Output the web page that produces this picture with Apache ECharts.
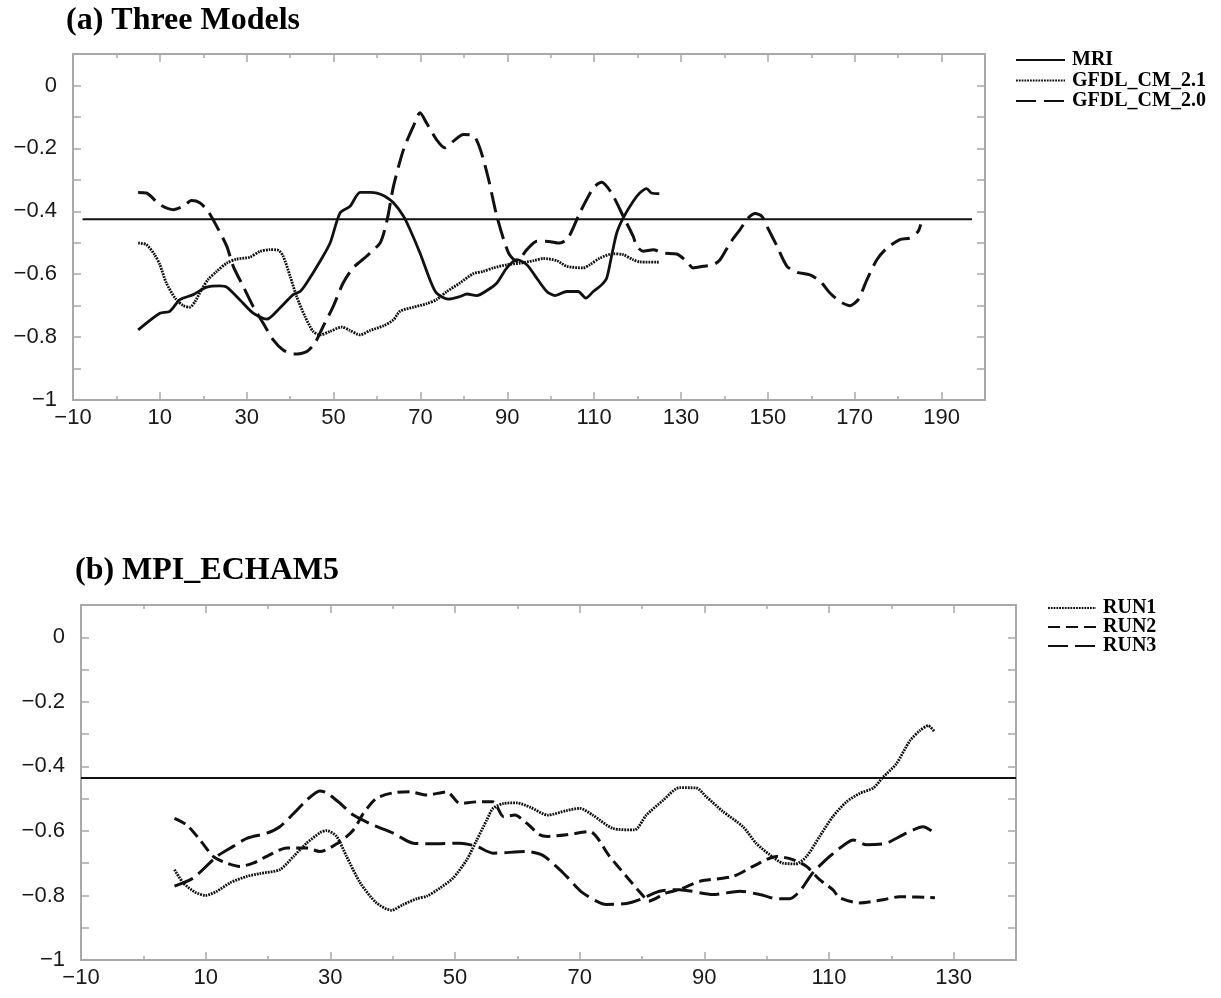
<!DOCTYPE html>
<html>
<head>
<meta charset="utf-8">
<title>Three Models / MPI_ECHAM5</title>
<script src="https://cdn.jsdelivr.net/npm/echarts@6/dist/echarts.min.js"></script>
<style>
    html, body { margin: 0; padding: 0; background: #fff; }
    #chart { width: 1221px; height: 998px; }
</style>
</head>
<body>
<div id="chart"></div>
<script>
(() => {
    'use strict'

    // panel (a): x, value pairs
    const mri = [[5,-0.777],[10,-0.724],[12.3,-0.718],[14.6,-0.681],[17.7,-0.665],[20.8,-0.641],[23.8,-0.637],[25.4,-0.641],[28.4,-0.681],[31.5,-0.724],[34.6,-0.743],[37.6,-0.708],[40.7,-0.665],[42.3,-0.655],[43.8,-0.628],[46.9,-0.559],[49.2,-0.501],[51.5,-0.405],[53.8,-0.384],[56.1,-0.34],[58.4,-0.34],[60,-0.342],[61.8,-0.352],[63.8,-0.373],[66.1,-0.416],[67.6,-0.458],[69.9,-0.533],[72.2,-0.618],[73.7,-0.66],[76.4,-0.679],[79.1,-0.671],[80.7,-0.663],[83,-0.668],[85.3,-0.652],[87.6,-0.628],[89.9,-0.58],[92.2,-0.554],[94.5,-0.57],[96.5,-0.607],[99.1,-0.655],[101,-0.668],[103.7,-0.655],[106.3,-0.655],[108.1,-0.676],[109.8,-0.655],[111.7,-0.634],[112.9,-0.612],[114,-0.543],[115.2,-0.469],[116.7,-0.421],[119,-0.368],[120.5,-0.342],[122.1,-0.328],[123.2,-0.342],[125,-0.344]]
    const gfdl21 = [[5,-0.501],[6.9,-0.506],[8.8,-0.538],[10,-0.57],[11.5,-0.628],[13.5,-0.676],[15.4,-0.7],[16.9,-0.705],[18.1,-0.687],[19.6,-0.649],[21.1,-0.617],[23.1,-0.591],[25.4,-0.565],[27.7,-0.552],[30.7,-0.546],[33,-0.528],[35.3,-0.522],[37.3,-0.524],[38.4,-0.543],[40,-0.607],[41.5,-0.671],[43.4,-0.734],[45.3,-0.782],[46.9,-0.793],[49.2,-0.782],[51.9,-0.768],[53.8,-0.779],[56.1,-0.793],[58.4,-0.779],[61.5,-0.764],[63.8,-0.745],[65.3,-0.718],[68.4,-0.705],[71.4,-0.694],[73.7,-0.681],[76.1,-0.655],[79.1,-0.628],[82.2,-0.598],[84.5,-0.591],[86.8,-0.58],[89.9,-0.57],[93,-0.565],[96.1,-0.557],[98.3,-0.55],[101.4,-0.557],[103.7,-0.575],[107.5,-0.58],[109,-0.57],[111.3,-0.549],[114.4,-0.535],[116.7,-0.538],[119,-0.554],[120.5,-0.561],[125,-0.562]]
    const gfdl20 = [[5,-0.34],[6.9,-0.342],[10,-0.379],[13.1,-0.395],[15.4,-0.384],[17.3,-0.366],[19.2,-0.373],[21.1,-0.4],[23.1,-0.448],[25.4,-0.511],[26.9,-0.575],[29.2,-0.639],[31.5,-0.703],[33.8,-0.756],[36.1,-0.809],[38.4,-0.841],[40.7,-0.854],[43.8,-0.846],[45.7,-0.819],[47.6,-0.766],[49.9,-0.703],[52.2,-0.628],[54.5,-0.58],[57.6,-0.543],[60.7,-0.501],[61.8,-0.458],[62.6,-0.41],[63.8,-0.32],[66.1,-0.204],[68.4,-0.129],[69.9,-0.087],[71.4,-0.119],[73.7,-0.172],[75.6,-0.198],[77.6,-0.177],[79.9,-0.156],[82.2,-0.159],[83.8,-0.204],[85.7,-0.299],[87.6,-0.416],[90.3,-0.533],[92.2,-0.559],[94.5,-0.522],[96.8,-0.495],[99.5,-0.496],[102.1,-0.501],[104,-0.485],[106.7,-0.405],[109.8,-0.326],[111.7,-0.308],[114,-0.342],[116.7,-0.416],[119,-0.48],[119.8,-0.511],[121.3,-0.527],[123.6,-0.522],[125.9,-0.533],[129,-0.536],[131.3,-0.559],[132.8,-0.58],[135.1,-0.575],[137.4,-0.57],[139,-0.554],[141.3,-0.501],[143.6,-0.458],[145.5,-0.421],[147.1,-0.407],[148.6,-0.416],[149.8,-0.448],[152.1,-0.511],[154.4,-0.575],[156.7,-0.594],[159.7,-0.602],[162.1,-0.623],[164.3,-0.66],[166.6,-0.687],[168.9,-0.7],[170.8,-0.681],[172.8,-0.618],[175.1,-0.554],[177.4,-0.517],[180.4,-0.49],[182.7,-0.485],[184.6,-0.464],[185.2,-0.442]]
    const refA = [[-7.8,-0.425],[197,-0.425]]

    // panel (b)
    const run1 = [[5,-0.72],[6.4,-0.761],[8.3,-0.79],[10,-0.8],[11.8,-0.787],[13.9,-0.761],[16.6,-0.741],[18.7,-0.732],[21.9,-0.72],[24.1,-0.679],[26.2,-0.638],[28.4,-0.605],[29.4,-0.599],[31,-0.617],[32.6,-0.679],[34.8,-0.761],[37.4,-0.823],[39.8,-0.846],[41.7,-0.828],[43.9,-0.81],[45.5,-0.802],[47.6,-0.777],[49.7,-0.746],[51.9,-0.689],[53.5,-0.628],[55.1,-0.566],[56.1,-0.53],[57.8,-0.515],[59.9,-0.513],[62.1,-0.527],[64.9,-0.551],[67.9,-0.537],[70,-0.53],[72.1,-0.551],[75.3,-0.592],[78.8,-0.597],[80.7,-0.551],[83.4,-0.505],[86,-0.466],[88.7,-0.467],[90.3,-0.494],[93,-0.54],[96.2,-0.587],[98.3,-0.638],[100.5,-0.674],[102.6,-0.7],[104.7,-0.702],[106.4,-0.679],[108.5,-0.617],[110.6,-0.556],[112.8,-0.51],[114.9,-0.484],[117.1,-0.467],[118.7,-0.433],[120.8,-0.392],[123,-0.32],[124.6,-0.289],[125.9,-0.274],[127,-0.294]]
    const run2 = [[5,-0.561],[7,-0.582],[9.1,-0.628],[11.2,-0.679],[13.4,-0.7],[15.5,-0.71],[17.6,-0.7],[19.8,-0.679],[23,-0.653],[26.2,-0.653],[28.3,-0.664],[31.6,-0.633],[33.7,-0.597],[35.3,-0.546],[37.4,-0.499],[40.1,-0.482],[42.8,-0.479],[45.5,-0.489],[48.7,-0.479],[50.8,-0.515],[53.5,-0.51],[56.1,-0.51],[57.8,-0.556],[59.6,-0.551],[61.5,-0.576],[63.6,-0.612],[64.9,-0.617],[67.9,-0.612],[71.6,-0.602],[74.8,-0.679],[77.5,-0.741],[80.2,-0.802],[81,-0.818],[83.9,-0.792],[86,-0.782],[89.3,-0.756],[94.6,-0.741],[97.8,-0.71],[101.6,-0.679],[104.2,-0.689],[106.4,-0.71],[108.5,-0.751],[110.6,-0.782],[111.7,-0.807],[114.9,-0.823],[118.7,-0.813],[121.3,-0.804],[127,-0.807]]
    const run3 = [[5,-0.771],[8,-0.746],[11.8,-0.679],[14.4,-0.648],[16.6,-0.623],[19.8,-0.607],[21.9,-0.587],[24.1,-0.546],[26.2,-0.505],[28.3,-0.476],[29.4,-0.482],[31.6,-0.515],[33.7,-0.551],[36.9,-0.582],[40.1,-0.607],[43.3,-0.638],[47.1,-0.64],[50.8,-0.638],[53.5,-0.648],[56.1,-0.669],[61.5,-0.664],[64.1,-0.676],[66.8,-0.72],[67.9,-0.741],[70.5,-0.792],[74.3,-0.828],[77.5,-0.825],[79.6,-0.813],[82.8,-0.787],[86,-0.782],[91.4,-0.797],[95.7,-0.787],[98.9,-0.797],[101.6,-0.81],[103.7,-0.81],[105.3,-0.787],[107.4,-0.73],[110.1,-0.679],[112.8,-0.638],[113.9,-0.628],[116,-0.643],[119.2,-0.638],[122.4,-0.607],[125.1,-0.587],[127,-0.607]]
    const refB = [[-10,-0.436],[140,-0.436]]

    const legendA = ['MRI', 'GFDL_CM_2.1', 'GFDL_CM_2.0']
    const legendB = ['RUN1', 'RUN2', 'RUN3']

    const GRAY = '#a9a9a9'
    const INK = '#111'
    const SANS = '"Liberation Sans", Arial, sans-serif'
    const SERIF = '"Liberation Serif", "Times New Roman", serif'
    const DOTS = [1.8, 1]

    const minus = s => s.replace('-', '\u2212')

    const xLabel = max => v => {
        const k = Math.round(v)
        if ((k + 10) % 20 !== 0 || k >= max) return ''
        return minus(String(k))
    }

    const yLabel = v => {
        const k = Math.round(v * 10)
        if (k % 2 !== 0 || k > 0) return ''
        return k === 0 ? '0' : minus(String(k / 10))
    }

    // four x axes (bottom/top, short and long ticks) and two y axes per panel
    const makeAxes = (gridIndex, max) => {
        const base = {
            type: 'value', gridIndex, min: -10, max,
            splitLine: {show: false},
            axisLine: {show: false, onZero: false},
            axisLabel: {show: false}
        }
        const xs = ['bottom', 'top'].flatMap(position => [
            Object.assign({}, base, {
                position, interval: 10,
                axisLine: {show: true, onZero: false, lineStyle: {color: GRAY, width: 2}},
                axisTick: {inside: true, length: 4, lineStyle: {color: GRAY, width: 1.5}},
                axisLabel: position === 'bottom' ? {
                    show: true, margin: 7, color: '#1a1a1a', fontFamily: SANS, fontSize: 22,
                    formatter: xLabel(max)
                } : {show: false}
            }),
            Object.assign({}, base, {
                position, interval: 20,
                axisTick: {inside: true, length: 8, lineStyle: {color: GRAY, width: 1.5}}
            })
        ])
        const ys = ['left', 'right'].map(position => ({
            type: 'value', gridIndex, position, min: -1, max: 0.1, interval: 0.1,
            splitLine: {show: false},
            axisLine: {show: true, onZero: false, lineStyle: {color: GRAY, width: 2}},
            axisTick: {inside: true, length: 8, lineStyle: {color: GRAY, width: 1.5}},
            axisLabel: position === 'left' ? {
                show: true, margin: 16, color: '#1a1a1a', fontFamily: SANS, fontSize: 22,
                formatter: yLabel
            } : {show: false}
        }))
        return {xs, ys}
    }

    const axesA = makeAxes(0, 200)
    const axesB = makeAxes(1, 140)

    const line = (name, data, xAxisIndex, yAxisIndex, type, width) => ({
        name, type: 'line', data, xAxisIndex, yAxisIndex,
        symbol: 'none', smooth: 0.25, silent: true, animation: false,
        lineStyle: {color: INK, width, type, cap: 'butt'},
        itemStyle: {color: INK}
    })

    // the legend keeps the line sample but hides the marker ECharts adds
    const legend = (data, left, top, gap, width) => ({
        data, orient: 'vertical', left, top,
        itemWidth: width, itemHeight: 20, itemGap: gap,
        selectedMode: false,
        itemStyle: {color: 'rgba(0,0,0,0)', borderWidth: 0, opacity: 0},
        textStyle: {
            color: '#000', fontFamily: SERIF, fontWeight: 'bold', fontSize: 20,
            padding: [0, 0, 0, 2]
        }
    })

    const titleStyle = {color: '#000', fontFamily: SERIF, fontWeight: 'bold', fontSize: 32}

    const option = {
        animation: false,
        backgroundColor: '#fff',
        title: [
            {text: '(a) Three Models', left: 66, top: 5, padding: 0, textStyle: titleStyle},
            {text: '(b) MPI_ECHAM5', left: 75, top: 555, padding: 0, textStyle: titleStyle}
        ],
        legend: [
            legend(legendA, 1010, 45, 0.5, 49),
            legend(legendB, 1042, 593, -1, 48)
        ],
        grid: [
            {left: 73, top: 54, width: 912, height: 346},
            {left: 81, top: 605, width: 935, height: 355}
        ],
        xAxis: axesA.xs.concat(axesB.xs),
        yAxis: axesA.ys.concat(axesB.ys),
        series: [
            line('ref-a', refA, 0, 0, 'solid', 2),
            line('MRI', mri, 0, 0, 'solid', 2.8),
            line('GFDL_CM_2.1', gfdl21, 0, 0, DOTS, 2.8),
            line('GFDL_CM_2.0', gfdl20, 0, 0, [20, 8], 3),
            line('ref-b', refB, 4, 2, 'solid', 2),
            line('RUN1', run1, 4, 2, DOTS, 2.8),
            line('RUN2', run2, 4, 2, [12, 6], 3),
            line('RUN3', run3, 4, 2, [20, 7], 3)
        ]
    }

    const chart = echarts.init(document.getElementById('chart'))
    chart.setOption(option)
})()
</script>
</body>
</html>
